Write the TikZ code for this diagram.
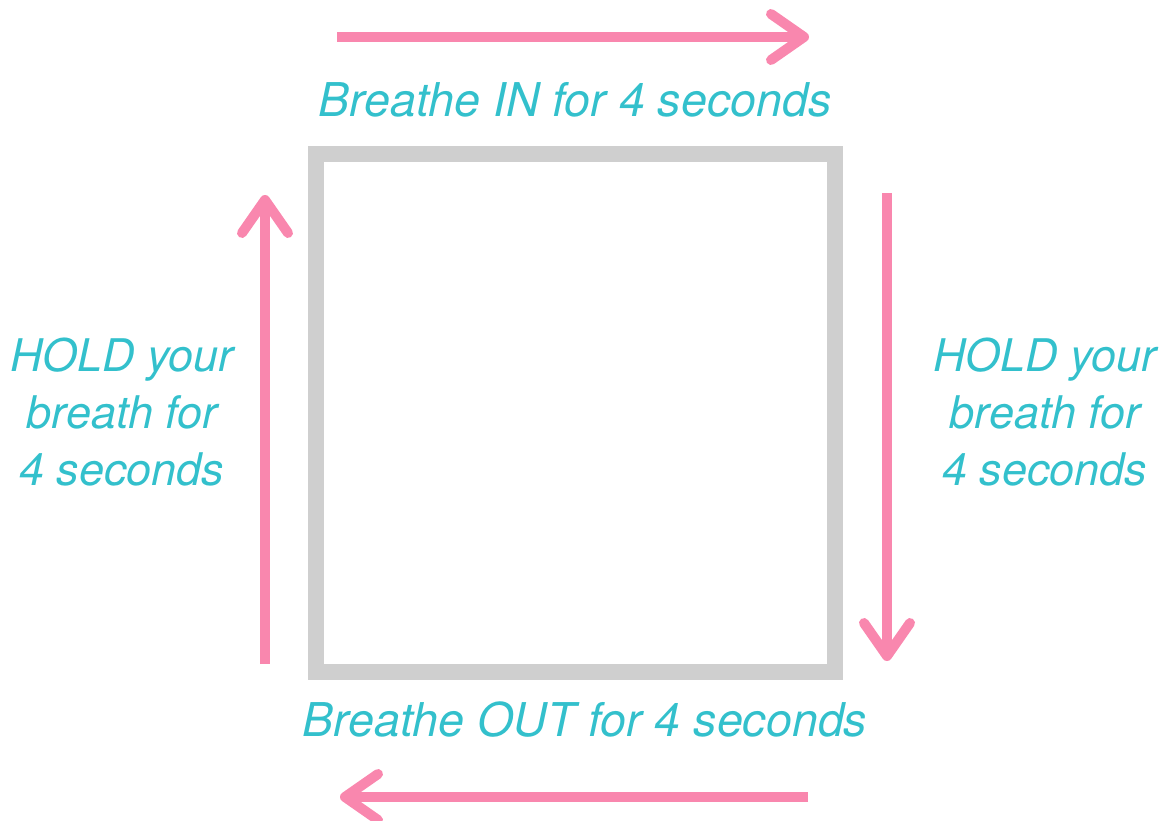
\documentclass[tikz,border=0pt]{standalone}
\usepackage{fontspec}
\setmainfont{TeX Gyre Heros}
\usepackage{tikz}
\usetikzlibrary{positioning,arrows.meta}
\definecolor{boxgray}{HTML}{CFCFCF}
\definecolor{breathpink}{HTML}{F987AE}
\definecolor{breathteal}{HTML}{33C0CC}
\tikzset{
  caption/.style={font=\fontsize{26.5}{33}\selectfont\itshape,text=breathteal,align=center,inner sep=0pt},
  sidecaption/.style={caption,font=\fontsize{25.6}{32.4}\selectfont\itshape},
  cycle/.style={-{Straight Barb[length=6.6mm,width=9.2mm,round]},line width=0.2cm,draw=breathpink}
}
\begin{document}
\begin{tikzpicture}[x=0.02cm,y=-0.02cm]
\useasboundingbox (0,0) rectangle (1164,821);
% Quadrat
\draw[boxgray,line width=0.32cm] (316,154) rectangle (835,672);

\coordinate (inA) at (337,37);   \coordinate (inB) at (809,37);
\coordinate (hrA) at (887,193);  \coordinate (hrB) at (887,661);
\coordinate (outA) at (808,797); \coordinate (outB) at (340,797);
\coordinate (hlA) at (265,664);  \coordinate (hlB) at (265,195);

\draw[cycle] (inA) -- (inB);
\draw[cycle] (hrA) -- (hrB);
\draw[cycle] (outA) -- (outB);
\draw[cycle] (hlA) -- (hlB);

\node[caption] (inlbl) at (575,100) {Breathe IN for 4 seconds};
\node[caption] (outlbl) at (585,720) {Breathe OUT for 4 seconds};
\node[sidecaption] (holdl) at (122,412) {HOLD your\\breath for\\4 seconds};
\node[sidecaption] (holdr) at (1045,412) {HOLD your\\breath for\\4 seconds};
\end{tikzpicture}
\end{document}
